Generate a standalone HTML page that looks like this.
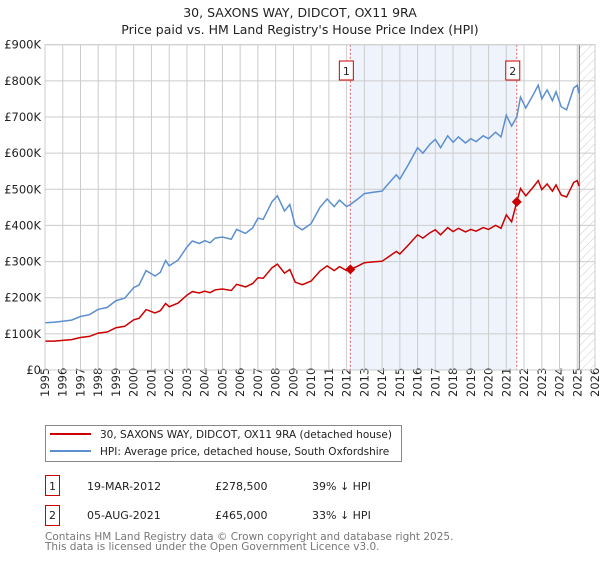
<!DOCTYPE html>
<html><head><meta charset="utf-8"><style>
body{margin:0;background:#fff;font-family:"DejaVu Sans","Liberation Sans",sans-serif;}
svg text{font-family:"DejaVu Sans","Liberation Sans",sans-serif;}
</style></head><body>
<svg id="chart" width="600" height="560" xmlns="http://www.w3.org/2000/svg">
<defs><pattern id="hatch" width="6" height="6" patternUnits="userSpaceOnUse" patternTransform="rotate(45)"><line x1="0" y1="0" x2="0" y2="6" stroke="#ccc" stroke-width="1"/></pattern></defs>
<text x="300" y="17" text-anchor="middle" font-size="12.5" fill="#222">30, SAXONS WAY, DIDCOT, OX11 9RA</text>
<text x="300" y="34" text-anchor="middle" font-size="12.5" fill="#222">Price paid vs. HM Land Registry's House Price Index (HPI)</text>
<g id="plot"></g>
<g>
<rect x="45.5" y="425.5" width="356" height="36" fill="#fff" stroke="#888"/>
<line x1="50" y1="434" x2="91" y2="434" stroke="#cc0000" stroke-width="2"/>
<text x="100" y="438" font-size="10.5" fill="#222">30, SAXONS WAY, DIDCOT, OX11 9RA (detached house)</text>
<line x1="50" y1="451" x2="91" y2="451" stroke="#5b8fd0" stroke-width="2"/>
<text x="100" y="455" font-size="10.5" fill="#222">HPI: Average price, detached house, South Oxfordshire</text>
</g>
<g font-size="11" fill="#222">
<rect x="45.5" y="475.5" width="14" height="20" fill="#fff" stroke="#cc0000"/>
<text x="52.5" y="490" text-anchor="middle">1</text>
<text x="87" y="490">19-MAR-2012</text><text x="215" y="490">£278,500</text><text x="312" y="490">39% ↓ HPI</text>
<rect x="45.5" y="505.5" width="14" height="20" fill="#fff" stroke="#cc0000"/>
<text x="52.5" y="519" text-anchor="middle">2</text>
<text x="87" y="519">05-AUG-2021</text><text x="215" y="519">£465,000</text><text x="312" y="519">33% ↓ HPI</text>
</g>
<text x="45" y="540" font-size="10.5" fill="#777">Contains HM Land Registry data © Crown copyright and database right 2025.</text>
<text x="45" y="550" font-size="10.5" fill="#777">This data is licensed under the Open Government Licence v3.0.</text>
</svg>
<script>
const hpiYears=[1995.0,1995.5,1996.0,1996.5,1997.0,1997.5,1998.0,1998.5,1999.0,1999.5,2000.0,2000.3,2000.7,2001.2,2001.5,2001.8,2002.0,2002.5,2003.0,2003.3,2003.7,2004.0,2004.3,2004.6,2005.0,2005.5,2005.8,2006.3,2006.7,2007.0,2007.3,2007.8,2008.1,2008.5,2008.8,2009.1,2009.5,2010.0,2010.5,2010.9,2011.3,2011.6,2012.0,2012.21,2012.6,2013.0,2013.5,2014.0,2014.3,2014.8,2015.0,2015.5,2016.0,2016.3,2016.7,2017.0,2017.3,2017.7,2018.0,2018.3,2018.7,2019.0,2019.3,2019.7,2020.0,2020.4,2020.7,2021.0,2021.3,2021.59,2021.8,2022.1,2022.5,2022.8,2023.0,2023.3,2023.6,2023.8,2024.1,2024.4,2024.8,2025.0,2025.1];
const hpiValues=[131,132,135,138,148,153,168,173,192,199,228,235,275,260,270,303,288,304,340,357,350,358,352,365,368,362,389,378,393,420,417,466,482,440,458,400,388,405,450,473,452,470,452,458,472,488,492,495,512,540,528,570,615,600,625,638,615,648,630,645,628,640,632,648,640,658,645,705,675,700,755,725,760,788,750,775,745,770,728,720,780,788,765];
const priceValues=[80,80,82,84,90,93,102,105,117,121,139,143,167,158,164,184,175,185,207,217,213,218,214,222,224,220,237,230,239,255,254,283,293,268,278,243,236,246,274,288,275,286,275,278.5,287,297,299,301,311,328,321,347,374,365,380,388,374,394,383,392,382,389,384,394,389,400,392,429,410,465,502,482,505,524,499,515,495,512,484,479,519,524,509];
const saleYears=[2012.21,2021.59];
const salePrices=[278.5,465];
const saleLabels=["1","2"];
const yTicks=[0,100,200,300,400,500,600,700,800,900];
const yTickLabels=["£0","£100K","£200K","£300K","£400K","£500K","£600K","£700K","£800K","£900K"];
const xTicks=[1995,1996,1997,1998,1999,2000,2001,2002,2003,2004,2005,2006,2007,2008,2009,2010,2011,2012,2013,2014,2015,2016,2017,2018,2019,2020,2021,2022,2023,2024,2025,2026];
const dataEnd=2025.12;

const L=45,R=595,T=44.7,B=370,x0=1995,x1=2026,yMax=900;
const X=y=>L+(y-x0)/(x1-x0)*(R-L);
const Y=v=>B-v/yMax*(B-T);
const NS="http://www.w3.org/2000/svg";
const g=document.getElementById('plot');
function mk(tag,attrs){const e=document.createElementNS(NS,tag);for(const k in attrs)e.setAttribute(k,attrs[k]);g.appendChild(e);return e;}

const shade=mk('rect',{x:X(saleYears[0]),y:T,width:X(saleYears[1])-X(saleYears[0]),height:B-T,fill:'#eef3fc'});


const hatch=mk('rect',{x:X(dataEnd),y:T,width:R-X(dataEnd),height:B-T,fill:'url(#hatch)'});



xTicks.forEach(t=>{
  const l=mk('line',{x1:X(t),x2:X(t),y1:T,y2:B,stroke:'#ccc','stroke-width':1});
  
  
  const tx=mk('text',{x:0,y:0,transform:`translate(${X(t)+4},${B+27}) rotate(-90)`,'font-size':11.5,fill:'#222'});
  tx.textContent=t;
  
  
});
yTicks.forEach((t,i)=>{
  const l=mk('line',{x1:L,x2:R,y1:Y(t),y2:Y(t),stroke:'#ccc','stroke-width':1});
  
  
  const tx=mk('text',{x:L-4,y:Y(t)+4,'text-anchor':'end','font-size':11.5,fill:'#222'});
  tx.textContent=yTickLabels[i];
  
  
});
const endLine=mk('line',{x1:X(dataEnd),x2:X(dataEnd),y1:T,y2:B,stroke:'#888','stroke-width':1.2});



saleYears.forEach((s,i)=>{
  const l=mk('line',{x1:X(s),x2:X(s),y1:T,y2:B,stroke:'#e06060','stroke-width':1,'stroke-dasharray':'2,2'});
  
  
});

const pts=(vals)=>hpiYears.map((yr,i)=>X(yr).toFixed(1)+','+Y(vals[i]).toFixed(1)).join(' ');
const hl=mk('polyline',{points:pts(hpiValues),fill:'none',stroke:'#5b8fd0','stroke-width':1.5});


const pl=mk('polyline',{points:pts(priceValues),fill:'none',stroke:'#cc0000','stroke-width':1.5});



saleYears.forEach((s,i)=>{
  const cx=X(s),cy=Y(salePrices[i]);
  const d=mk('polygon',{points:`${cx},${cy-5} ${cx+5},${cy} ${cx},${cy+5} ${cx-5},${cy}`,fill:'#cc0000'});
  
  
  const b=mk('rect',{x:cx-11,y:61,width:14,height:19,fill:'#fff',stroke:'#cc0000'});
  
  
  const t=mk('text',{x:cx-4,y:75,'text-anchor':'middle','font-size':11,fill:'#222'});
  t.textContent=saleLabels[i];
  
  
});
const frame=mk('rect',{x:L,y:T,width:R-L,height:B-T,fill:'none',stroke:'#ccc'});


</script>
</body></html>
